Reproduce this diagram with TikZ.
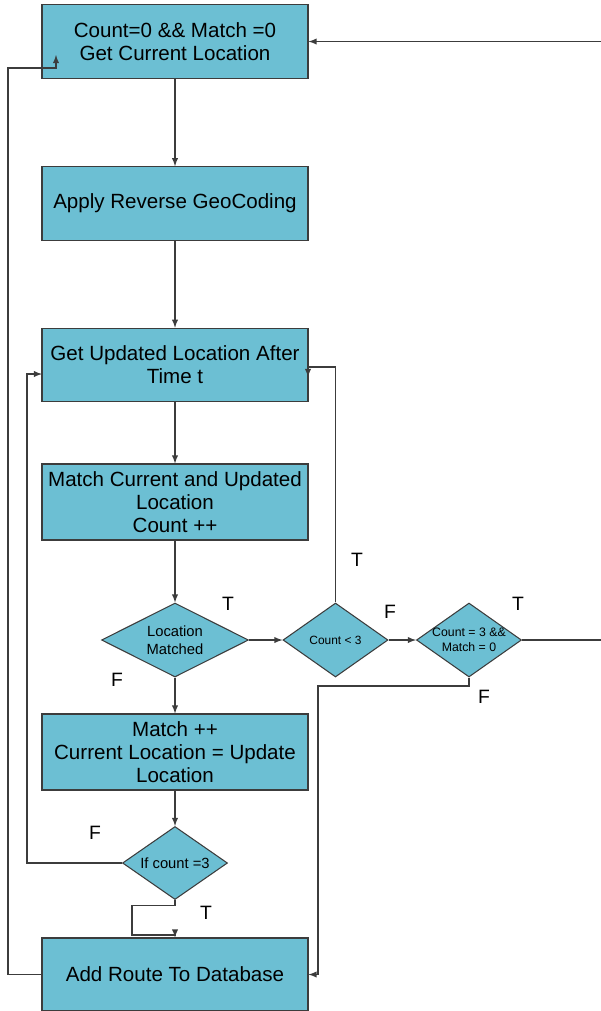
\documentclass[tikz,border=0pt]{standalone}
\usepackage{fontspec}
\setmainfont{Liberation Sans}
\usetikzlibrary{shapes.geometric}
\definecolor{boxfill}{RGB}{108,191,211}
\definecolor{edgegray}{RGB}{60,60,60}

\begin{document}
\begin{tikzpicture}[
  procbox/.style={rectangle,draw=edgegray,line width=0.6pt,fill=boxfill,minimum width=5.32cm,minimum height=1.47cm,align=center,font=\fontsize{11.7}{13}\selectfont,inner sep=0pt},
  decide/.style={diamond,draw=edgegray,line width=0.6pt,fill=boxfill,inner sep=0pt,aspect=2,align=center},
  conn/.style={draw=edgegray,line width=0.6pt},
  arr/.style={conn,-latex},
  tf/.style={font=\fontsize{11}{12}\selectfont}
]
\useasboundingbox (0,0) rectangle (12.02,-20.22);

\node[procbox] (b1) at (3.5,-0.83) {Count=0 \&\& Match =0\\Get Current Location};
\node[procbox] (b2) at (3.5,-4.07) {Apply Reverse GeoCoding};
\node[procbox] (b3) at (3.5,-7.3) {Get Updated Location After\\Time t};
\node[procbox,minimum height=1.52cm] (b4) at (3.5,-10.04) {Match Current and Updated\\Location\\Count ++};
\node[decide,minimum width=2.94cm,minimum height=1.48cm,font=\fontsize{8.4}{10}\selectfont] (d1) at (3.5,-12.8) {Location\\Matched};
\node[decide,minimum width=2.1cm,minimum height=1.48cm,font=\fontsize{6.8}{8}\selectfont] (d2) at (6.71,-12.8) {Count < 3};
\node[decide,aspect=1,inner xsep=-0.3cm,inner ysep=-0.1cm,minimum width=2.1cm,minimum height=1.48cm,font=\fontsize{7}{8.4}\selectfont] (d3) at (9.38,-12.8) {Count = 3 \&\&\\Match = 0};
\node[procbox,minimum height=1.52cm] (b5) at (3.5,-15.04) {Match ++\\Current Location = Update\\Location};
\node[decide,minimum width=2.1cm,minimum height=1.46cm,font=\fontsize{8.4}{10}\selectfont] (d4) at (3.5,-17.26) {If count =3};
\node[procbox,minimum height=1.46cm] (b6) at (3.5,-19.49) {Add Route To Database};

% free ends
\coordinate (r3a) at (6.16,-7.34);
\coordinate (r3b) at (6.16,-7.54);
\coordinate (l3) at (0.84,-7.48);
\coordinate (l1) at (1.12,-1.1);

% main line
\draw[arr] (b1) -- (b2);
\draw[arr] (b2) -- (b3);
\draw[arr] (b3) -- (b4);
\draw[arr] (b4) -- (d1);
\draw[arr] (d1) -- (b5);
\draw[arr] (b5) -- (d4);
\draw[arr] (d1.east) -- (d2.west);
\draw[arr] (d2.east) -- (d3.west);

% loops
\draw[arr] (d2.north) |- (r3a) -- (r3b);
\draw[arr] (d3.east) -- (12.3,-12.8) |- (b1.east);
\draw[arr] (d3.south) |- (6.36,-13.72) |- (b6.east);
\draw[arr] (d4.west) -- ++(-1.9,0) |- (l3);
\draw[arr] (d4.south) -- ++(0,-0.1) -| (2.64,-18.7) -| (b6.north);
\draw[arr] (b6.west) -| (0.16,-1.36) -| (l1);

% labels
\node[tf] (t1) at (4.56,-12.08) {T};
\node[tf] (t2) at (7.14,-11.2) {T};
\node[tf] (f2) at (7.8,-12.24) {F};
\node[tf] (t3) at (10.36,-12.08) {T};
\node[tf] (f3) at (9.68,-13.94) {F};
\node[tf] (f1) at (2.34,-13.6) {F};
\node[tf] (f4) at (1.9,-16.66) {F};
\node[tf] (t4) at (4.12,-18.26) {T};

\end{tikzpicture}
\end{document}
